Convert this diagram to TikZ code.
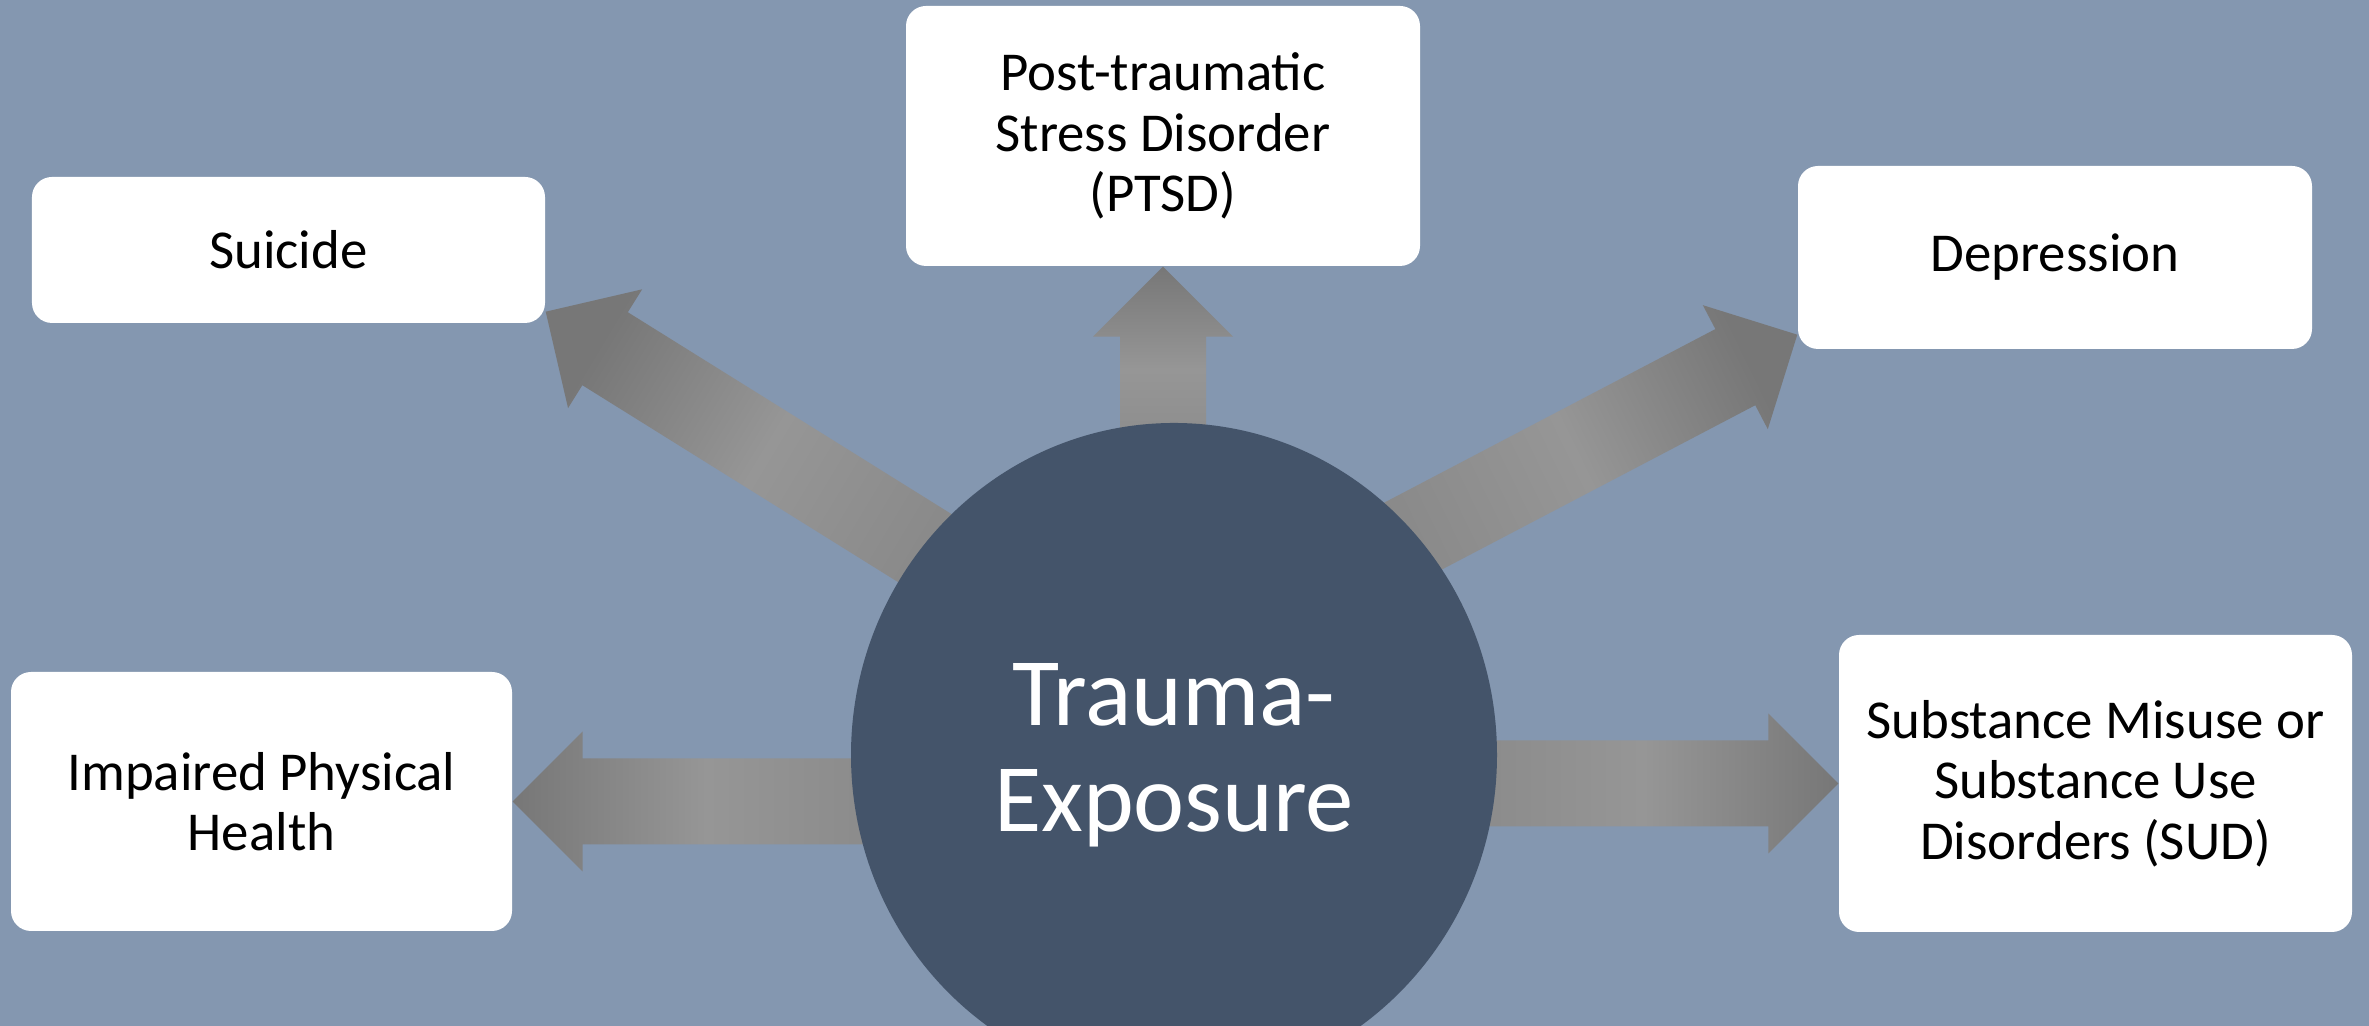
\documentclass[tikz,border=0pt]{standalone}
\usepackage{fontspec}
\setmainfont{Carlito}
\usetikzlibrary{calc,backgrounds,shapes.geometric}
\definecolor{slate}{HTML}{8497B0}
\definecolor{hubblue}{HTML}{44546A}
\definecolor{tipgray}{HTML}{777777}
\definecolor{midgray}{HTML}{969696}
\definecolor{basegray}{HTML}{898989}
\tikzset{
	%Define style for outcome boxes
	outcome/.style={
		rectangle,
		rounded corners=0.2cm,
		fill=white,
		inner sep=0pt,
		align=center,
		font=\fontsize{15.6}{17.2}\selectfont},
	%Define style for the centre circle
	hub/.style={
		ellipse,
		fill=hubblue,
		text=white,
		inner sep=0pt,
		minimum width=6.46cm,
		minimum height=6.64cm,
		align=center,
		font=\fontsize{27.5}{30.2}\selectfont},
	% Define block arrow style
	blk/.style={
		top color=tipgray,
		bottom color=basegray,
		middle color=midgray}
}
% block arrow from #1 (tail) to #2 (tip), #3 = shading angle
\newcommand{\blockarrow}[3]{%
	\coordinate (h) at ($(#2)!0.7cm!(#1)$);
	\path[blk, shading angle=#3] ($(#1)!0.43cm!90:(#2)$) -- ($(h)!0.43cm!90:(#2)$)
		-- ($(h)!0.7cm!90:(#2)$) -- (#2) -- ($(h)!0.7cm!-90:(#2)$)
		-- ($(h)!0.43cm!-90:(#2)$) -- ($(#1)!0.43cm!-90:(#2)$) -- cycle;
}

\begin{document}
\begin{tikzpicture}
	\useasboundingbox (0,0) rectangle (23.69,10.26);
	\begin{scope}[on background layer]
		\fill[slate] (0,0) rectangle (23.69,10.26);
	\end{scope}
	% node Trauma-Exposure
	\node[hub] (trauma) at (11.74,2.71) {Trauma-\\Exposure};
	% node Suicide
	\node[outcome, minimum width=5.13cm, minimum height=1.46cm] (suicide) at (2.885,7.76) {Suicide};
	% node PTSD
	\node[outcome, minimum width=5.14cm, minimum height=2.60cm] (ptsd) at (11.63,8.90) {Post-traumatic\\Stress Disorder\\(PTSD)};
	% node Depression
	\node[outcome, minimum width=5.14cm, minimum height=1.83cm] (depression) at (20.55,7.685) {\raisebox{-0.08cm}{Depression}};
	% node Impaired Physical Health
	\node[outcome, minimum width=5.01cm, minimum height=2.59cm] (impaired) at (2.615,2.245) {Impaired Physical\\Health};
	% node SUD
	\node[outcome, minimum width=5.13cm, minimum height=2.97cm] (sud) at (20.955,2.425) {Substance Misuse or\\Substance Use\\Disorders (SUD)};
	% arrow ends
	\coordinate (t1) at ($(trauma.139)!0.5cm!(trauma.center)$);
	\coordinate (e1) at ($(suicide.south east)+(0,0.12)$);
	\coordinate (t2) at ($(ptsd.south |- trauma.north)+(0,-0.5)$);
	\coordinate (t3) at ($(trauma.45)!0.5cm!(trauma.center)$);
	\coordinate (e3) at ($(depression.south west)+(0,0.15)$);
	\coordinate (t4) at ($(impaired.east -| trauma.west)+(0.5,0)$);
	\coordinate (t5) at ($(sud.west -| trauma.east)+(-0.5,0)$);
	\begin{scope}[on background layer]
		\blockarrow{t1}{e1}{59}
		\blockarrow{t2}{ptsd.south}{0}
		\blockarrow{t3}{e3}{-64}
		\blockarrow{t4}{impaired.east}{90}
		\blockarrow{t5}{sud.west}{-90}
	\end{scope}
\end{tikzpicture}
\end{document}
